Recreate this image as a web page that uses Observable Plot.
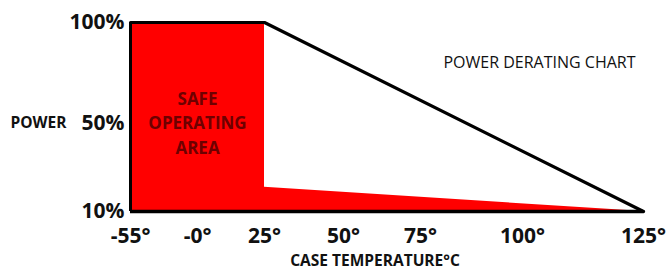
<!DOCTYPE html>
<html>
<head>
<meta charset="utf-8">
<script src="https://cdn.jsdelivr.net/npm/d3@7"></script>
<script src="https://cdn.jsdelivr.net/npm/@observablehq/plot@0.6"></script>
<style>
  html, body { margin: 0; padding: 0; background: #fff; }
</style>
</head>
<body>
<div id="chart"></div>
<script>
// Safe operating area outline (temperature °C, power %)
const safeTemps = [-55, 25, 25, 125];
const safePower = [100, 100, 21, 10];
// Power derating curve
const ratingTemps = [-55, 25, 125];
const ratingPower = [100, 100, 10];
// Axis ticks
const xTicks = [-55, 0, 25, 50, 75, 100, 125];
const xTickLabels = ["-55°", "-0°", "25°", "50°", "75°", "100°", "125°"];
const yTicks = [10, 50, 100];
const yTickLabels = ["10%", "50%", "100%"];
// Texts
const chartTitle = "POWER DERATING CHART";
const xLabel = "CASE TEMPERATURE°C";
const yLabel = "POWER";
const areaLabel = "SAFE\nOPERATING\nAREA";

const safeData = safeTemps.map((t, i) => ({t, p: safePower[i]}));
const ratingData = ratingTemps.map((t, i) => ({t, p: ratingPower[i]}));

const chart = Plot.plot({
  width: 669,
  height: 271,
  marginLeft: 130,
  marginRight: 26,
  marginTop: 22,
  marginBottom: 60,
  style: {fontFamily: "'Open Sans', sans-serif", background: "#fff", color: "#111"},
  x: {type: "linear", domain: xTicks, range: [130, 197, 264, 343, 420, 522, 643]},
  y: {type: "linear", domain: yTicks, range: [211, 123, 22]},
  marks: [
    Plot.areaY(safeData, {x: "t", y1: 10, y2: "p", fill: "#ff0000"}),
    Plot.line(ratingData, {x: "t", y: "p", stroke: "#000", strokeWidth: 3.2, strokeLinejoin: "round"}),
    Plot.ruleX([-55], {y1: 10, y2: 100, stroke: "#000", strokeWidth: 3}),
    Plot.ruleY([10], {x1: -55, x2: 125, stroke: "#000", strokeWidth: 3.5}),
    Plot.axisX({ticks: xTicks, tickFormat: (d) => xTickLabels[xTicks.indexOf(d)], tickSize: 0, tickPadding: 17, fontSize: 21, fontWeight: "bold", label: null}),
    Plot.axisY({ticks: yTicks, tickFormat: (d) => yTickLabels[yTicks.indexOf(d)], tickSize: 0, tickPadding: 6, fontSize: 21, fontWeight: "bold", label: null}),
    Plot.text([areaLabel], {x: 0, y: 50, text: (d) => d, fontSize: 17, fontWeight: "bold", fill: "#6e0000", lineHeight: 1.45, lineAnchor: "middle", dy: -2}),
    Plot.text([chartTitle], {frameAnchor: "top-right", text: (d) => d, dx: -8, dy: 40, fontSize: 16, fill: "#111", textAnchor: "end", lineAnchor: "middle"}),
    Plot.text([yLabel], {frameAnchor: "left", y: 50, text: (d) => d, dx: -120, fontSize: 15.5, fontWeight: "bold", fill: "#111", textAnchor: "start", lineAnchor: "middle"}),
    Plot.text([xLabel], {frameAnchor: "bottom", text: (d) => d, dx: -12, dy: 43, fontSize: 15.5, fontWeight: "bold", fill: "#111", lineAnchor: "top"})
  ]
});
document.getElementById("chart").appendChild(chart);
</script>
</body>
</html>
